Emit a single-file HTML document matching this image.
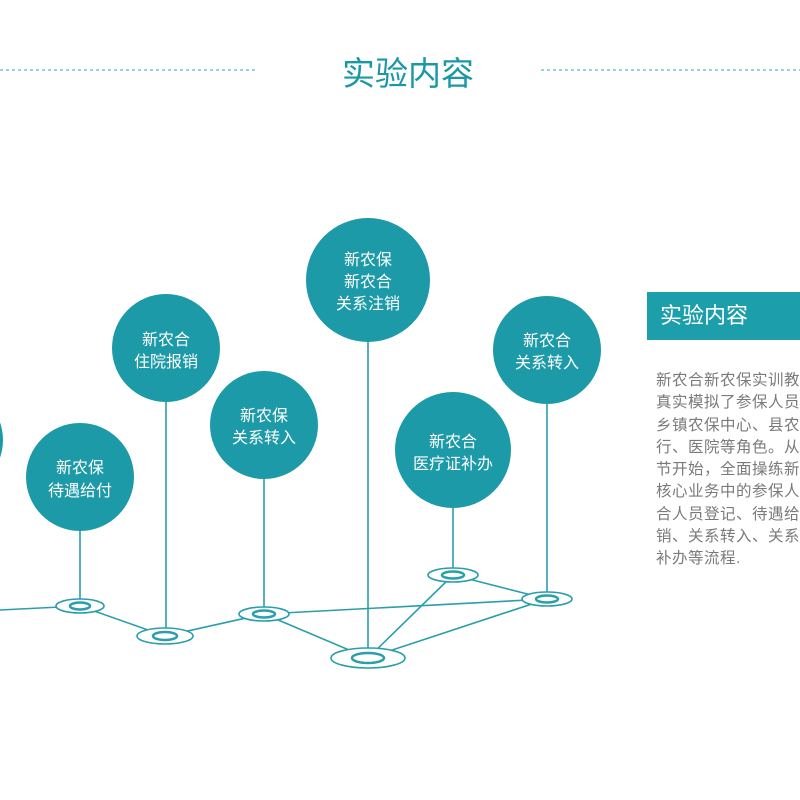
<!DOCTYPE html>
<html><head><meta charset="utf-8"><style>
body{margin:0;width:800px;height:800px;background:#fff;overflow:hidden;position:relative;font-family:"Liberation Sans","Noto Sans CJK SC",sans-serif}
.t{position:absolute;left:0;width:800px;top:47px;text-align:center;font-size:33px;color:#1a98a5;margin-left:8px}
.box{position:absolute;left:647px;top:292px;width:153px;height:48px;background:#1c9eab;color:#fff;font-size:22px;line-height:48px;padding-left:13px;box-sizing:border-box}
.p{position:absolute;left:656px;top:370px;width:180px;font-size:15.5px;line-height:22.3px;color:#7a7a7a;white-space:nowrap;letter-spacing:0.5px}
</style></head><body>
<svg width="800" height="800" style="position:absolute;left:0;top:0" font-family="Liberation Sans, Noto Sans CJK SC, sans-serif">
<g stroke="#5ab8c4" stroke-width="1.2" stroke-dasharray="3,3"><line x1="0" y1="70" x2="258" y2="70"/><line x1="541" y1="70" x2="800" y2="70"/></g>
<g stroke="#2a9eab" stroke-width="1.6" fill="none">
<polyline points="0,610 80,606 165,636 264,614 368,658"/>
<line x1="264" y1="614" x2="547" y2="599"/>
<line x1="368" y1="658" x2="453" y2="575"/>
<line x1="368" y1="658" x2="547" y2="599"/>
<line x1="453" y1="575" x2="547" y2="599"/>
<line x1="80" y1="477" x2="80" y2="606"/>
<line x1="166" y1="348" x2="166" y2="636"/>
<line x1="264" y1="425" x2="264" y2="614"/>
<line x1="368" y1="280" x2="368" y2="658"/>
<line x1="453" y1="450" x2="453" y2="575"/>
<line x1="547" y1="350" x2="547" y2="599"/>
</g>
<g fill="#fff" stroke="#2a9eab" stroke-width="1.6">
<ellipse cx="80" cy="606" rx="24" ry="7"/><ellipse cx="80" cy="606" rx="10" ry="3.5" stroke-width="2.5"/>
<ellipse cx="165" cy="636" rx="28" ry="8"/><ellipse cx="165" cy="636" rx="12" ry="4" stroke-width="2.5"/>
<ellipse cx="264" cy="614" rx="25" ry="7"/><ellipse cx="264" cy="614" rx="11" ry="3.5" stroke-width="2.5"/>
<ellipse cx="368" cy="658" rx="37" ry="10"/><ellipse cx="368" cy="658" rx="16" ry="5" stroke-width="2.5"/>
<ellipse cx="453" cy="575" rx="25" ry="7"/><ellipse cx="453" cy="575" rx="11" ry="3.5" stroke-width="2.5"/>
<ellipse cx="547" cy="599" rx="25" ry="7"/><ellipse cx="547" cy="599" rx="11" ry="3.5" stroke-width="2.5"/>
</g>
<g fill="#1c9aa7">
<circle cx="-51" cy="440" r="54"/>
<circle cx="80" cy="477" r="54"/>
<circle cx="166" cy="348" r="54"/>
<circle cx="264" cy="425" r="54"/>
<circle cx="368" cy="280" r="62"/>
<circle cx="453" cy="450" r="58"/>
<circle cx="547" cy="350" r="54"/>
</g>
<g fill="#fff" font-size="16" text-anchor="middle">
<text x="80" y="473">新农保</text><text x="80" y="496">待遇给付</text>
<text x="166" y="345">新农合</text><text x="166" y="367">住院报销</text>
<text x="264" y="421">新农保</text><text x="264" y="443">关系转入</text>
<text x="368" y="265">新农保</text><text x="368" y="287">新农合</text><text x="368" y="309">关系注销</text>
<text x="453" y="447">新农合</text><text x="453" y="469">医疗证补办</text>
<text x="547" y="346">新农合</text><text x="547" y="368">关系转入</text>
</g>
</svg>
<div class="t">实验内容</div>
<div class="box">实验内容</div>
<div class="p">新农合新农保实训教学<br>真实模拟了参保人员、<br>乡镇农保中心、县农保<br>行、医院等角色。从参<br>节开始，全面操练新农<br>核心业务中的参保人员<br>合人员登记、待遇给付<br>销、关系转入、关系转<br>补办等流程.</div>
</body></html>
